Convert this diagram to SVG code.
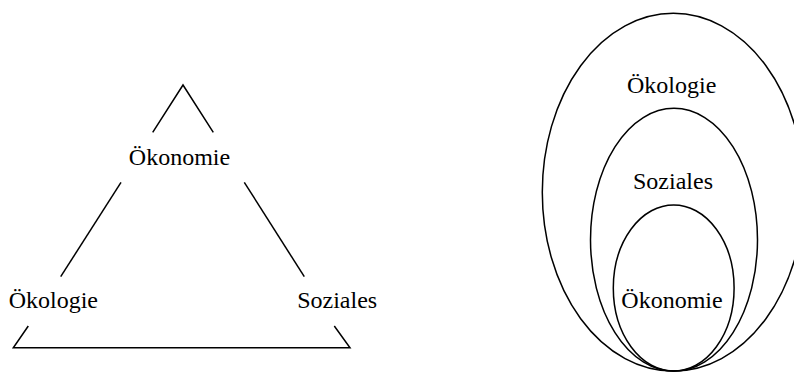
<svg xmlns="http://www.w3.org/2000/svg" width="794" height="372" viewBox="0 0 794 372">
<style>
.l{fill:none;stroke:#000;stroke-width:1.5}
text{font-family:"Liberation Serif","Times New Roman",serif;font-size:24px;fill:#000;text-anchor:middle}
</style>
<rect width="794" height="372" fill="#fff"/>
<g id="connectors">
<polyline class="l" points="152.7,132.3 183,85 213.3,132.3"/>
<line class="l" x1="121" y1="182.3" x2="60.7" y2="276.7"/>
<line class="l" x1="244.3" y1="182.3" x2="304.3" y2="276.7"/>
<polyline class="l" points="28.3,326 13.3,347.7 350,347.7 334.3,326"/>
</g>
<g id="tri-oekonomie"><text x="179.5" y="165">Ökonomie</text></g>
<g id="tri-oekologie"><text x="53.3" y="308">Ökologie</text></g>
<g id="tri-soziales"><text x="337.2" y="308">Soziales</text></g>
<g id="ell-oekologie">
<ellipse class="l" cx="673.3" cy="192.2" rx="131" ry="178.9"/>
<text x="671.7" y="92.7">Ökologie</text>
</g>
<g id="ell-soziales">
<ellipse class="l" cx="674" cy="239.7" rx="83.5" ry="131.4"/>
<text x="673" y="189.3">Soziales</text>
</g>
<g id="ell-oekonomie">
<ellipse class="l" cx="673.7" cy="288" rx="60.4" ry="83.1"/>
<text x="672" y="308.3">Ökonomie</text>
</g>
</svg>
